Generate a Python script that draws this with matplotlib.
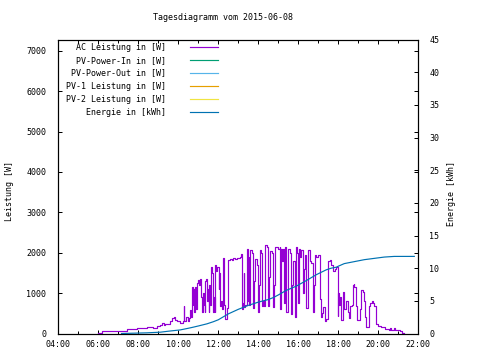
import matplotlib
matplotlib.use('Agg')
import matplotlib.pyplot as plt
from matplotlib.ticker import MultipleLocator, FuncFormatter

plt.rcParams['font.family'] = ['DejaVu Sans Mono']
plt.rcParams['font.size'] = 6

title = "Tagesdiagramm vom 2015-06-08"
y_label = "Leistung [W]"
y2_label = "Energie [kWh]"

legend_labels = ["AC Leistung in [W]", "PV-Power-In in [W]", "PV-Power-Out in [W]",
                 "PV-1 Leistung in [W]", "PV-2 Leistung in [W]", "Energie in [kWh]"]
legend_colors = ["#9400D3", "#009E73", "#56B4E9", "#E69F00", "#F0E442", "#0072B2"]

# AC power (W)
ac_times = ["06:00", "06:12", "06:40", "07:00", "07:25", "07:40", "07:55", "08:05", "08:15", "08:25",
            "08:36", "08:45", "08:56", "09:06", "09:11", "09:16", "09:21", "09:36", "09:42", "09:46",
            "09:50", "09:56", "10:06", "10:14", "10:16", "10:18", "10:24", "10:28", "10:31", "10:34",
            "10:37", "10:41", "10:43", "10:45", "10:47", "10:50", "10:53", "10:56", "10:59", "11:02",
            "11:04", "11:07", "11:11", "11:14", "11:17", "11:19", "11:21", "11:24", "11:26", "11:28",
            "11:31", "11:33", "11:36", "11:38", "11:41", "11:43", "11:46", "11:49", "11:51", "11:54",
            "11:57", "12:01", "12:03", "12:05", "12:08", "12:11", "12:14", "12:16", "12:20", "12:25",
            "12:30", "12:35", "12:40", "12:45", "12:50", "12:55", "13:00", "13:05", "13:08", "13:10",
            "13:13", "13:16", "13:18", "13:21", "13:25", "13:28", "13:31", "13:33", "13:35", "13:40",
            "13:45", "13:48", "13:50", "13:55", "14:00", "14:03", "14:05", "14:08", "14:10", "14:15",
            "14:18", "14:20", "14:25", "14:28", "14:30", "14:33", "14:35", "14:40", "14:45", "14:48",
            "14:50", "14:55", "15:00", "15:04", "15:06", "15:09", "15:12", "15:14", "15:16", "15:19",
            "15:22", "15:24", "15:29", "15:34", "15:39", "15:41", "15:44", "15:49", "15:54", "15:57",
            "15:59", "16:02", "16:05", "16:09", "16:14", "16:17", "16:19", "16:24", "16:29", "16:34",
            "16:39", "16:44", "16:47", "16:49", "16:54", "16:59", "17:04", "17:07", "17:11", "17:14",
            "17:19", "17:24", "17:29", "17:34", "17:39", "17:44", "17:49", "17:54", "17:58", "18:00",
            "18:03", "18:05", "18:08", "18:13", "18:16", "18:18", "18:23", "18:28", "18:33", "18:36",
            "18:40", "18:43", "18:46", "18:48", "18:53", "18:56", "19:05", "19:08", "19:13", "19:16",
            "19:18", "19:21", "19:23", "19:33", "19:36", "19:40", "19:44", "19:48", "19:53", "19:58",
            "20:08", "20:18", "20:21", "20:31", "20:36", "20:38", "20:46", "20:51", "21:06", "21:11",
            "21:18"]
ac_watts = [20, 50, 60, 70, 100, 110, 125, 140, 130, 150,
            155, 140, 180, 220, 265, 200, 240, 320, 380, 400,
            330, 320, 250, 300, 677, 320, 400, 300, 380, 570,
            420, 1150, 700, 1100, 540, 1150, 600, 1250, 1330, 1200,
            1360, 900, 540, 1000, 700, 540, 1300, 1360, 800, 1100,
            540, 1200, 700, 1650, 1500, 540, 900, 540, 1700, 1550,
            1650, 1090, 1500, 690, 800, 600, 1860, 700, 370, 640,
            1830, 1850, 1820, 1870, 1840, 1860, 1880, 1900, 1960, 610,
            750, 1500, 650, 700, 2100, 800, 1900, 700, 2080, 2000,
            630, 1300, 1850, 1700, 540, 1200, 2080, 2000, 690, 800,
            690, 2180, 2150, 1900, 690, 1400, 2050, 2000, 660, 1200,
            2150, 2140, 2100, 2140, 610, 2100, 1800, 2100, 760, 2140,
            2100, 540, 2100, 2000, 490, 1200, 1800, 410, 2140, 2000,
            760, 2100, 1900, 2080, 1000, 1600, 1950, 630, 2080, 1800,
            1750, 540, 1200, 1950, 1900, 1950, 860, 410, 500, 660,
            320, 370, 1800, 1830, 1700, 1550, 1600, 1650, 440, 1000,
            700, 900, 330, 1040, 800, 610, 800, 540, 375, 690,
            700, 1210, 1230, 1160, 680, 330, 600, 1070, 1040, 1000,
            800, 410, 157, 690, 750, 800, 750, 690, 240, 180,
            173, 150, 115, 90, 130, 90, 130, 90, 50, 17,
            17]

# Energy (kWh)
energy_times = ["07:10", "08:24", "09:06", "09:30", "10:06", "10:30", "10:45", "11:00", "11:26", "11:45",
                "12:00", "12:15", "12:30", "12:45", "13:00", "13:15", "13:30", "13:45", "14:00", "14:15",
                "14:30", "14:45", "15:00", "15:24", "15:54", "16:24", "16:54", "17:24", "17:39", "17:54",
                "18:00", "18:18", "18:48", "19:18", "19:48", "20:18", "20:48", "21:48"]
energy_kwh = [0.0, 0.1, 0.2, 0.35, 0.55, 0.8, 0.97, 1.15, 1.48, 1.8,
              2.1, 2.55, 3.0, 3.35, 3.7, 4.0, 4.3, 4.55, 4.8, 5.0,
              5.2, 5.5, 5.9, 6.6, 7.25, 8.1, 9.0, 9.75, 10.0, 10.15,
              10.3, 10.7, 11.0, 11.3, 11.5, 11.7, 11.8, 11.8]


def to_hours(s):
    h, m = s.split(":")
    return int(h) + int(m) / 60.0


W, H = 480, 360
fig = plt.figure(figsize=(4.8, 3.6), dpi=100)
L, R, T, B = 58.3, 418.3, 39.5, 333.5
ax = fig.add_axes([L / W, (H - B) / H, (R - L) / W, (B - T) / H])
ax2 = ax.twinx()

ax.plot([to_hours(t) for t in ac_times], ac_watts, color=legend_colors[0], lw=0.85,
        drawstyle='steps-post')
ax2.plot([to_hours(t) for t in energy_times], energy_kwh, color=legend_colors[5], lw=0.85)

ax.set_xlim(4, 22)
ax.set_ylim(0, 7280)
ax2.set_ylim(0, 45)

ax.xaxis.set_major_locator(MultipleLocator(2))
ax.xaxis.set_minor_locator(MultipleLocator(1))
ax.xaxis.set_major_formatter(FuncFormatter(lambda v, p: f"{int(round(v)):02d}:00"))
ax.yaxis.set_major_locator(MultipleLocator(1000))
ax2.yaxis.set_major_locator(MultipleLocator(5))

ax.tick_params(axis='x', which='major', direction='in', top=True, bottom=True, length=3, width=0.72, pad=5)
ax.tick_params(axis='x', which='minor', direction='in', top=True, bottom=True, length=2, width=0.72)
ax.tick_params(axis='y', which='major', direction='in', left=True, right=True, length=3, width=0.72, pad=8.5)
ax2.tick_params(axis='y', which='major', direction='in', left=False, right=True, length=3, width=0.72, pad=8)

for a in (ax, ax2):
    for sp in a.spines.values():
        sp.set_linewidth(0.8)
        sp.set_color('black')

fig.text(223 / W, 1 - 18 / H, title, ha='center', va='center')
fig.text(10 / W, 1 - 191 / H, y_label, rotation=90, ha='center', va='center')
fig.text(452 / W, 1 - 193 / H, y2_label, rotation=90, ha='center', va='center')

# legend (key) inside top-left, text right-justified, sample line after text
row_y = [47, 60.3, 73, 86.3, 99, 112.3]
for lbl, col, yy in zip(legend_labels, legend_colors, row_y):
    fy = (B - yy) / (B - T)
    ax.text((166 - L) / (R - L), fy, lbl, transform=ax.transAxes, ha='right', va='center')
    ax.plot([(190 - L) / (R - L), (218 - L) / (R - L)], [fy, fy], transform=ax.transAxes,
            color=col, lw=0.85, clip_on=False)

fig.savefig("out.png", dpi=100)
